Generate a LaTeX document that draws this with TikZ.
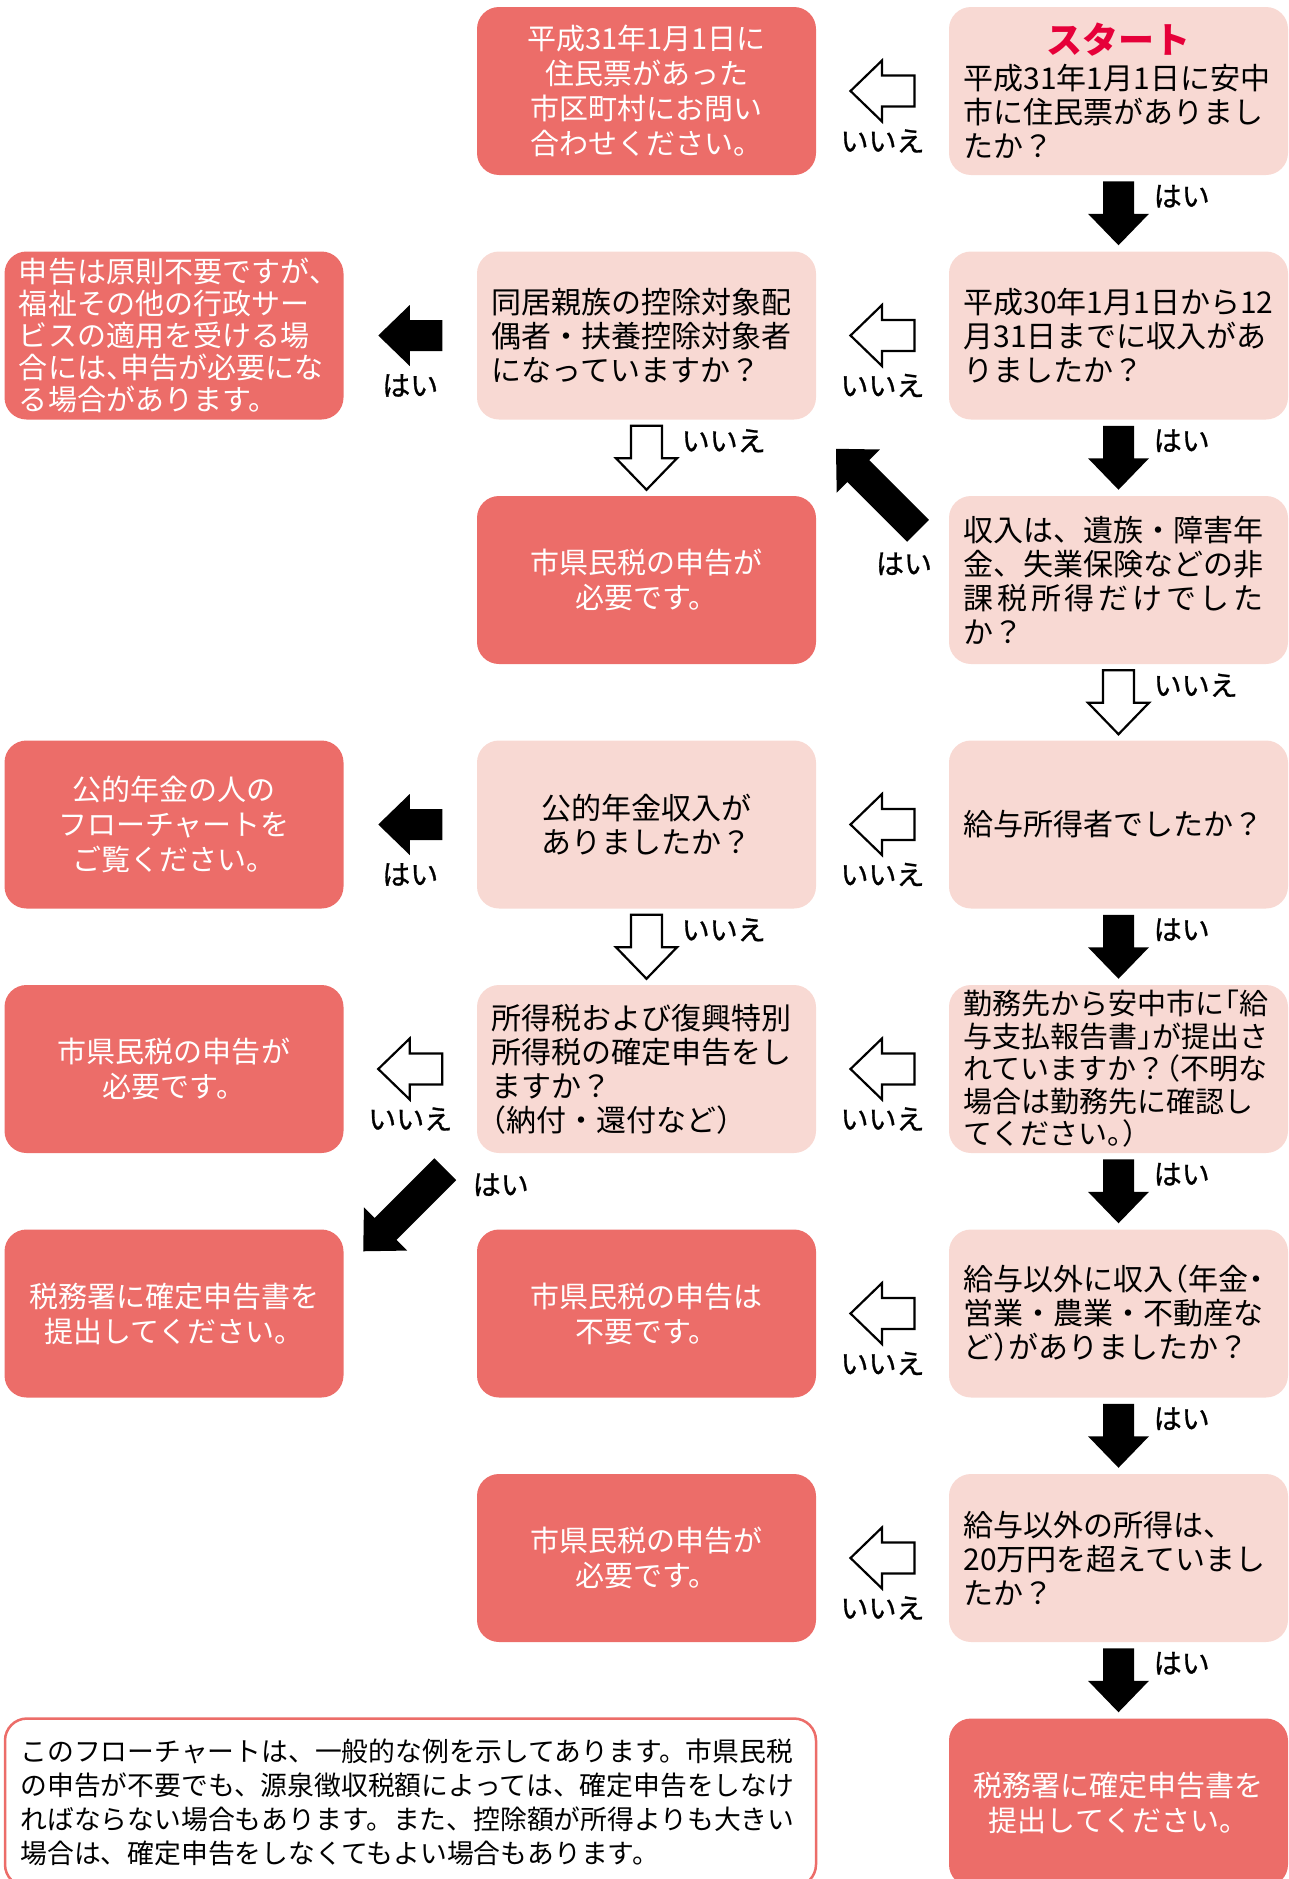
\documentclass[tikz,border=0pt]{standalone}
\usepackage{fontspec}
\setmainfont{Noto Sans CJK JP}
\usetikzlibrary{calc}
\definecolor{flow dark}{rgb}{0.925, 0.427, 0.412}
\definecolor{flow light}{rgb}{0.973, 0.851, 0.827}
\definecolor{start red}{rgb}{0.902, 0.0, 0.224}
\newcommand{\hw}[1]{{\addfontfeatures{RawFeature=+halt}#1}}
\tikzset{
	pics/blockarrow/.style={code={
		\path[pic actions] (-#1/2,-15.5) -- (#1/2-31.5,-15.5) -- (#1/2-31.5,-30.5) -- (#1/2,0)
			-- (#1/2-31.5,30.5) -- (#1/2-31.5,15.5) -- (-#1/2,15.5) -- cycle;}},
	pics/blockarrow/.default=64,
	yes arrow/.style={fill=black},
	no arrow/.style={fill=white, draw=black, line width=2.2pt},
}

\begin{document}
\begin{tikzpicture}[x=1pt, y=-1pt,
	question/.style={rectangle, rounded corners=22pt, fill=flow light, minimum width=339pt,
		minimum height=168pt, inner sep=0pt, text width=310pt, align=left,
		font=\fontsize{30}{34}\selectfont},
	answer/.style={question, fill=flow dark, text=white, align=center,
		font=\fontsize{29}{35}\selectfont},
	lab/.style={inner sep=0pt, font=\fontsize{28}{28}\selectfont\addfontfeatures{FakeBold=1}}]
	\useasboundingbox (0,0) rectangle (1288,1879);
		% right column
		\node[question] (q1) at (1118.5,91) {\makebox[\hsize]{\fontsize{36}{36}\selectfont\color{start red}\bfseries スタート}\\[2pt]
			平成31年1月1日に安中\\市に住民票がありまし\\たか？};
		\node[question] (q2) at (1118.5,335.5) {平成30年1月1日から12\\月31日までに収入があ\\りましたか？};
		\node[question] (q3) at (1118.5,580) {収入は、遺族・障害年\\金、失業保険などの非\\
			\makebox[300pt]{課\hfill 税\hfill 所\hfill 得\hfill だ\hfill け\hfill で\hfill し\hfill た}\\か？};
		\node[question] (q4) at (1118.5,824.5) {給与所得者でしたか？};
		\node[question, font=\fontsize{29}{32.5}\selectfont] (q5) at (1118.5,1069) {勤務先から安中市に\hw{「}給\\与支払報告書\hw{」}が提出さ\\
			れていますか\hw{？（}不明な\\場合は勤務先に確認し\\てください\hw{。）}};
		\node[question] (q6) at (1118.5,1313.5) {給与以外に収入\hw{（}年金\hw{・}\\営業・農業・不動産な\\ど\hw{）}がありましたか？};
		\node[question] (q7) at (1118.5,1558) {給与以外の所得は、\\20万円を超えていまし\\たか？};
		\node[answer] (q8) at (1118.5,1802.5) {税務署に確定申告書を\\提出してください。};
		% middle column
		\node[answer] (m1) at (646.5,91) {平成31年1月1日に\\住民票があった\\市区町村にお問い\\合わせください。};
		\node[question] (m2) at (646.5,335.5) {同居親族の控除対象配\\偶者・扶養控除対象者\\になっていますか？};
		\node[answer] (m3) at (646.5,580) {市県民税の申告が\\必要です。};
		\node[question, align=center] (m4) at (646.5,824.5) {公的年金収入が\\ありましたか？};
		\node[question] (m5) at (646.5,1069) {所得税および復興特別\\所得税の確定申告をし\\ますか？\\\hw{（}納付・還付など\hw{）}};
		\node[answer] (m6) at (646.5,1313.5) {市県民税の申告は\\不要です。};
		\node[answer] (m7) at (646.5,1558) {市県民税の申告が\\必要です。};
		% left column
		\node[answer, align=left, font=\fontsize{29}{32}\selectfont] (l2) at (174,335.5) {申告は原則不要ですが\hw{、}\\福祉その他の行政サー\\
			ビスの適用を受ける場\\合には\hw{、}申告が必要にな\\る場合があります。};
		\node[answer] (l4) at (174,824.5) {公的年金の人の\\フローチャートを\\ご覧ください。};
		\node[answer] (l5) at (174,1069) {市県民税の申告が\\必要です。};
		\node[answer] (l6) at (174,1313.5) {税務署に確定申告書を\\提出してください。};
		% note
		\node[question, fill=white, draw=flow dark, line width=2.5pt, minimum width=811pt,
			text width=780pt, font=\fontsize{26.8}{34}\selectfont] (note) at (410.5,1802.5)
			{このフローチャートは、一般的な例を示してあります。市県民税\\の申告が不要でも、源泉徴収税額によっては、確定申告をしなけ\\
			ればならない場合もあります。また、控除額が所得よりも大きい\\場合は、確定申告をしなくてもよい場合もあります。};
		% yes arrows down the right column
		\foreach \a/\b in {q1/q2, q2/q3, q4/q5, q5/q6, q6/q7, q7/q8} {
			\pic[yes arrow, rotate=-90] at ($(\a.south)!0.5!(\b.north)$) {blockarrow};
			\node[lab, anchor=west] (y\a) at ($(\a.south)!0.5!(\b.north)+(35,-17)$) {はい};
		}
		% no arrows down
		\foreach \a/\b in {q3/q4, m2/m3, m4/m5} {
			\pic[no arrow, rotate=-90] at ($(\a.south)!0.5!(\b.north)$) {blockarrow};
			\node[lab, anchor=west] (n\a) at ($(\a.south)!0.5!(\b.north)+(35,-17)$) {いいえ};
		}
		% no arrows to the left
		\foreach \a/\b in {q1/m1, q2/m2, q4/m4, q5/m5, q6/m6, q7/m7, m5/l5} {
			\pic[no arrow, rotate=180] at ($(\a.west)!0.5!(\b.east)$) {blockarrow};
			\node[lab] (n\a) at ($(\a.west)!0.5!(\b.east)+(0,50)$) {いいえ};
		}
		% yes arrows to the left
		\foreach \a/\b in {m2/l2, m4/l4} {
			\pic[yes arrow, rotate=180] at ($(\a.west)!0.5!(\b.east)$) {blockarrow};
			\node[lab] (y\a) at ($(\a.west)!0.5!(\b.east)+(0,50)$) {はい};
		}
		% slanted yes arrows
		\coordinate (d3) at ($(m3.north east)!0.5!(q3.north west)+(-5.5,-6)$);
		\pic[yes arrow, rotate=135] at (d3) {blockarrow=116};
		\node[lab] (yq3) at ($(d3)+(27,74)$) {はい};
		\coordinate (d5) at ($(l6.north east)!0.5!(m5.south west)+(-6,19)$);
		\pic[yes arrow, rotate=-135] at (d5) {blockarrow=116};
		\node[lab] (ym5) at ($(d5)+(96.5,-25.5)$) {はい};
\end{tikzpicture}
\end{document}
